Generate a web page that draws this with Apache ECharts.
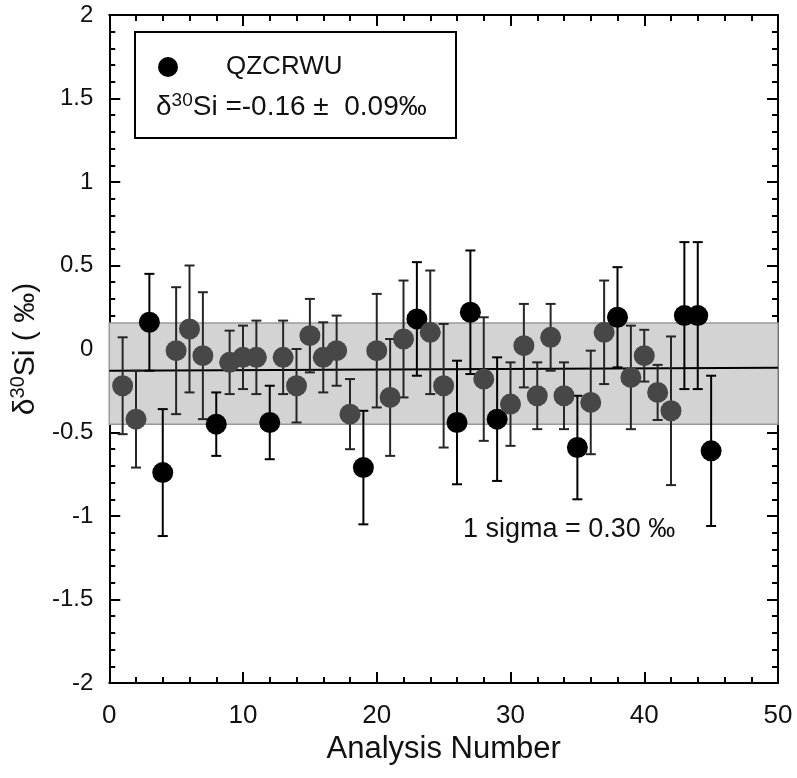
<!DOCTYPE html>
<html>
<head>
<meta charset="utf-8">
<script src="https://cdn.jsdelivr.net/npm/echarts@6/dist/echarts.min.js"></script>
<style>
  html, body { margin: 0; padding: 0; background: #fff; }
  #main { width: 797px; height: 778px; }
</style>
</head>
<body>
<div id="main"></div>
<script>
// analysis numbers and d30Si values (permil)
const analysisNo = [1, 2, 3, 4, 5, 6, 7, 8, 9, 10, 11, 12, 13, 14, 15, 16, 17, 18, 19, 20,
  21, 22, 23, 24, 25, 26, 27, 28, 29, 30, 31, 32, 33, 34, 35, 36, 37, 38, 39, 40,
  41, 42, 43, 44, 45]
const d30Si = [-0.22, -0.42, 0.16, -0.74, -0.01, 0.12, -0.04, -0.45, -0.08, -0.05,
  -0.05, -0.44, -0.05, -0.22, 0.08, -0.05, -0.01, -0.39, -0.71, -0.01,
  -0.29, 0.06, 0.18, 0.10, -0.22, -0.44, 0.22, -0.18, -0.42, -0.33,
  0.02, -0.28, 0.07, -0.28, -0.59, -0.32, 0.10, 0.19, -0.17, -0.04,
  -0.26, -0.37, 0.20, 0.20, -0.61]
const errors = [0.29, 0.29, 0.29, 0.38, 0.38, 0.38, 0.38, 0.19, 0.19, 0.19,
  0.22, 0.22, 0.22, 0.22, 0.22, 0.21, 0.21, 0.21, 0.34, 0.34,
  0.35, 0.35, 0.34, 0.37, 0.37, 0.37, 0.37, 0.37, 0.37, 0.25,
  0.25, 0.20, 0.20, 0.20, 0.31, 0.31, 0.31, 0.30, 0.31, 0.155,
  0.165, 0.445, 0.44, 0.44, 0.45]
// points drawn in black in the figure, the rest are dark grey
const blackPoints = [3, 4, 8, 12, 19, 23, 26, 27, 29, 35, 38, 43, 44, 45]

// mean line and 1 sigma band
const trendX = [0, 50]
const trendY = [-0.13, -0.113]
const bandLo = -0.45
const bandHi = 0.155

const xTicks = [0, 10, 20, 30, 40, 50]
const yTicks = [-2, -1.5, -1, -0.5, 0, 0.5, 1, 1.5, 2]

const FONT = '"Liberation Sans", Arial, sans-serif'
const GREY = '#474747'

const chart = echarts.init(document.getElementById('main'))

const pts = analysisNo.map((n, i) => {
  const black = blackPoints.indexOf(n) >= 0
  return {
    value: [n, d30Si[i]],
    itemStyle: {color: black ? '#000' : GREY, opacity: 1}
  }
})
const bars = analysisNo.map((n, i) => [n, d30Si[i], errors[i], blackPoints.indexOf(n) >= 0 ? 1 : 0])

const axisBase = {
  type: 'value',
  axisLine: {show: true, onZero: false, lineStyle: {color: '#000', width: 2}},
  axisTick: {show: true, inside: true, length: 11, lineStyle: {color: '#000', width: 2}},
  minorTick: {show: true, splitNumber: 5, length: 6, lineStyle: {color: '#000', width: 2}},
  splitLine: {show: false}
}

const option = {
  animation: false,
  backgroundColor: '#fff',
  grid: {left: 107, right: 19, top: 15, bottom: 95},
  xAxis: [
    Object.assign({}, axisBase, {
      min: xTicks[0], max: xTicks[xTicks.length - 1], interval: 10,
      name: 'Analysis Number',
      nameLocation: 'middle',
      nameGap: 50,
      nameTextStyle: {fontFamily: FONT, fontSize: 31, color: '#111'},
      axisLabel: {fontFamily: FONT, fontSize: 26, color: '#111', margin: 20}
    }),
    Object.assign({}, axisBase, {
      position: 'top',
      min: xTicks[0], max: xTicks[xTicks.length - 1], interval: 10,
      axisLabel: {show: false}
    })
  ],
  yAxis: [
    Object.assign({}, axisBase, {
      min: yTicks[0], max: yTicks[yTicks.length - 1], interval: 0.5,
      name: '{t|δ}{s|30}{t|Si ( ‰)}',
      nameLocation: 'middle',
      nameRotate: 90,
      nameGap: 62,
      nameTextStyle: {
        rich: {
          t: {fontFamily: FONT, fontSize: 30, color: '#111', lineHeight: 36},
          s: {fontFamily: FONT, fontSize: 20, color: '#111', verticalAlign: 'top', lineHeight: 36}
        }
      },
      axisLabel: {fontFamily: FONT, fontSize: 24, color: '#111', margin: 16}
    }),
    Object.assign({}, axisBase, {
      position: 'right',
      min: yTicks[0], max: yTicks[yTicks.length - 1], interval: 0.5,
      axisLabel: {show: false}
    })
  ],
  graphic: [
    {type: 'rect', shape: {x: 135, y: 32, width: 321, height: 106}, style: {fill: '#fff', stroke: '#000', lineWidth: 2}, z: 10},
    {type: 'circle', shape: {cx: 168, cy: 67, r: 10}, style: {fill: '#000'}, z: 11},
    {type: 'text', x: 226, y: 67, z: 11, style: {text: 'QZCRWU', fontFamily: FONT, fontSize: 26, fill: '#111', verticalAlign: 'middle'}},
    {type: 'text', x: 156, y: 107, z: 11, style: {
      text: '{t|δ}{s|30}{t|Si =-0.16 ±  0.09‰}',
      verticalAlign: 'middle',
      rich: {
        t: {fontFamily: FONT, fontSize: 28, fill: '#111', lineHeight: 32},
        s: {fontFamily: FONT, fontSize: 19, fill: '#111', verticalAlign: 'top', lineHeight: 32}
      }
    }},
    {type: 'text', x: 463, y: 530, z: 11, style: {text: '1 sigma = 0.30 ‰', fontFamily: FONT, fontSize: 27, fill: '#111', verticalAlign: 'middle'}}
  ],
  series: [
    {
      name: 'mean',
      type: 'line',
      data: trendX.map((x, i) => [x, trendY[i]]),
      showSymbol: false,
      silent: true,
      z: 2,
      lineStyle: {color: '#000', width: 2},
      markArea: {
        silent: true,
        itemStyle: {color: '#d3d3d3', borderColor: '#9a9a9a', borderWidth: 1.5},
        data: [[{yAxis: bandHi}, {yAxis: bandLo}]]
      }
    },
    {
      name: 'error',
      type: 'custom',
      z: 3,
      silent: true,
      data: bars,
      renderItem: function (params, api) {
        const x = api.value(0)
        const v = api.value(1)
        const e = api.value(2)
        const top = api.coord([x, v + e])
        const bot = api.coord([x, v - e])
        const hw = 5
        const style = {stroke: api.value(3) ? '#000' : '#262626', lineWidth: 2}
        return {
          type: 'group',
          children: [
            {type: 'line', shape: {x1: top[0], y1: top[1], x2: bot[0], y2: bot[1]}, style: style},
            {type: 'line', shape: {x1: top[0] - hw, y1: top[1], x2: top[0] + hw, y2: top[1]}, style: style},
            {type: 'line', shape: {x1: bot[0] - hw, y1: bot[1], x2: bot[0] + hw, y2: bot[1]}, style: style}
          ]
        }
      }
    },
    {
      name: 'QZCRWU',
      type: 'scatter',
      z: 4,
      symbol: 'circle',
      symbolSize: 21,
      data: pts
    }
  ]
}

chart.setOption(option)
</script>
</body>
</html>
